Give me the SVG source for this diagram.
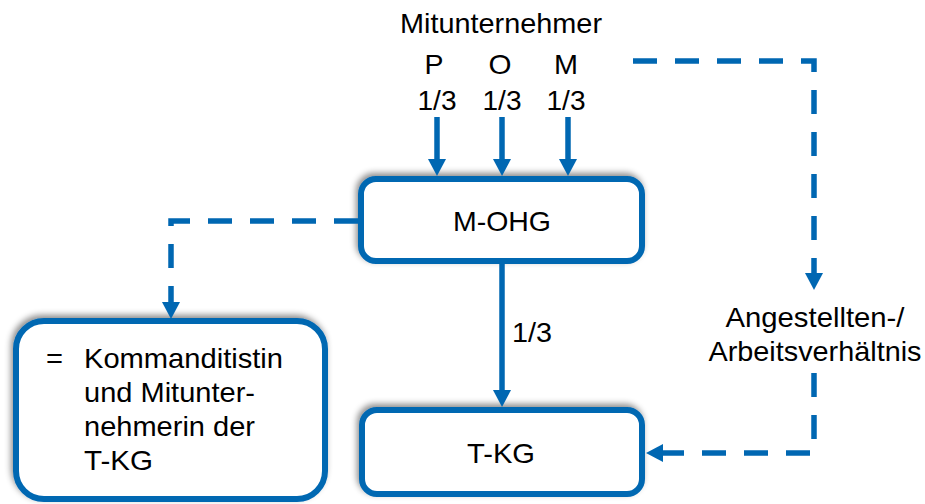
<svg xmlns="http://www.w3.org/2000/svg" width="925" height="504" viewBox="0 0 925 504">
  <style>
    .box { fill: #ffffff; stroke: #0067b2; stroke-width: 6; filter: url(#shadow); }
    .lbl { font-family: "Liberation Sans", Arial, sans-serif; font-size: 28px; fill: #000000; }
    .mid { text-anchor: middle; }
    .solid { fill: none; stroke: #0067b2; stroke-width: 5.5; marker-end: url(#head); }
    .dash { fill: none; stroke: #0067b2; stroke-width: 5.5; stroke-dasharray: 24 18; marker-end: url(#head); }
  </style>
  <defs>
    <filter id="shadow" x="-20%" y="-30%" width="140%" height="160%">
      <feDropShadow dx="-2" dy="-3" stdDeviation="3" flood-color="#000000" flood-opacity="0.45"/>
    </filter>
    <marker id="head" markerUnits="userSpaceOnUse" markerWidth="18" markerHeight="18" refX="0" refY="9" orient="auto">
      <path d="M0,0 L17,9 L0,18 Z" fill="#0067b2"/>
    </marker>
  </defs>

  <rect width="925" height="504" fill="#ffffff"/>

  <!-- partners above the M-OHG -->
  <g id="partners">
    <text class="lbl mid" x="501" y="33" textLength="202" lengthAdjust="spacingAndGlyphs">Mitunternehmer</text>
    <text class="lbl mid" x="434" y="74" textLength="19" lengthAdjust="spacingAndGlyphs">P</text>
    <text class="lbl mid" x="500" y="74" textLength="23" lengthAdjust="spacingAndGlyphs">O</text>
    <text class="lbl mid" x="566" y="74" textLength="24" lengthAdjust="spacingAndGlyphs">M</text>
    <text class="lbl mid" x="437" y="110" textLength="39" lengthAdjust="spacingAndGlyphs">1/3</text>
    <text class="lbl mid" x="502" y="110" textLength="39" lengthAdjust="spacingAndGlyphs">1/3</text>
    <text class="lbl mid" x="566" y="110" textLength="39" lengthAdjust="spacingAndGlyphs">1/3</text>
  </g>

  <!-- M-OHG -->
  <g id="m-ohg">
    <rect class="box" x="361" y="179" width="281" height="82" rx="15"/>
    <text class="lbl mid" x="502" y="231" textLength="98" lengthAdjust="spacingAndGlyphs">M-OHG</text>
  </g>

  <!-- T-KG -->
  <g id="t-kg">
    <rect class="box" x="362" y="410" width="280" height="84" rx="15"/>
    <text class="lbl mid" x="501" y="463" textLength="68" lengthAdjust="spacingAndGlyphs">T-KG</text>
  </g>

  <!-- role of the M-OHG -->
  <g id="role">
    <rect class="box" x="16" y="321" width="309" height="178" rx="28"/>
    <text class="lbl" x="46" y="368" textLength="17" lengthAdjust="spacingAndGlyphs">=</text>
    <text class="lbl" x="84" y="368" textLength="199" lengthAdjust="spacingAndGlyphs">Kommanditistin</text>
    <text class="lbl" x="84" y="402" textLength="171" lengthAdjust="spacingAndGlyphs">und Mitunter-</text>
    <text class="lbl" x="84" y="436" textLength="171" lengthAdjust="spacingAndGlyphs">nehmerin der</text>
    <text class="lbl" x="84" y="470" textLength="69" lengthAdjust="spacingAndGlyphs">T-KG</text>
  </g>

  <!-- employment label -->
  <g id="employment">
    <text class="lbl mid" x="815" y="327" textLength="179" lengthAdjust="spacingAndGlyphs">Angestellten-/</text>
    <text class="lbl mid" x="815" y="361" textLength="213" lengthAdjust="spacingAndGlyphs">Arbeitsverhältnis</text>
  </g>

  <g id="connectors">
    <!-- shares of the partners -->
    <path class="solid" d="M437,117 L437,159"/>
    <path class="solid" d="M502,117 L502,159"/>
    <path class="solid" d="M568,117 L568,159"/>
    <!-- M-OHG holds 1/3 of T-KG -->
    <path class="solid" d="M502,264 L502,390"/>
    <text class="lbl" x="512" y="342" textLength="40" lengthAdjust="spacingAndGlyphs">1/3</text>
    <!-- M-OHG to its role -->
    <path class="dash" d="M358,221 L171,221 L171,302"/>
    <!-- partner M to employment -->
    <path class="dash" d="M633,61 L814,61 L814,273"/>
    <!-- employment to T-KG -->
    <path class="dash" d="M814,373 L814,453 L663,453"/>
  </g>
</svg>
